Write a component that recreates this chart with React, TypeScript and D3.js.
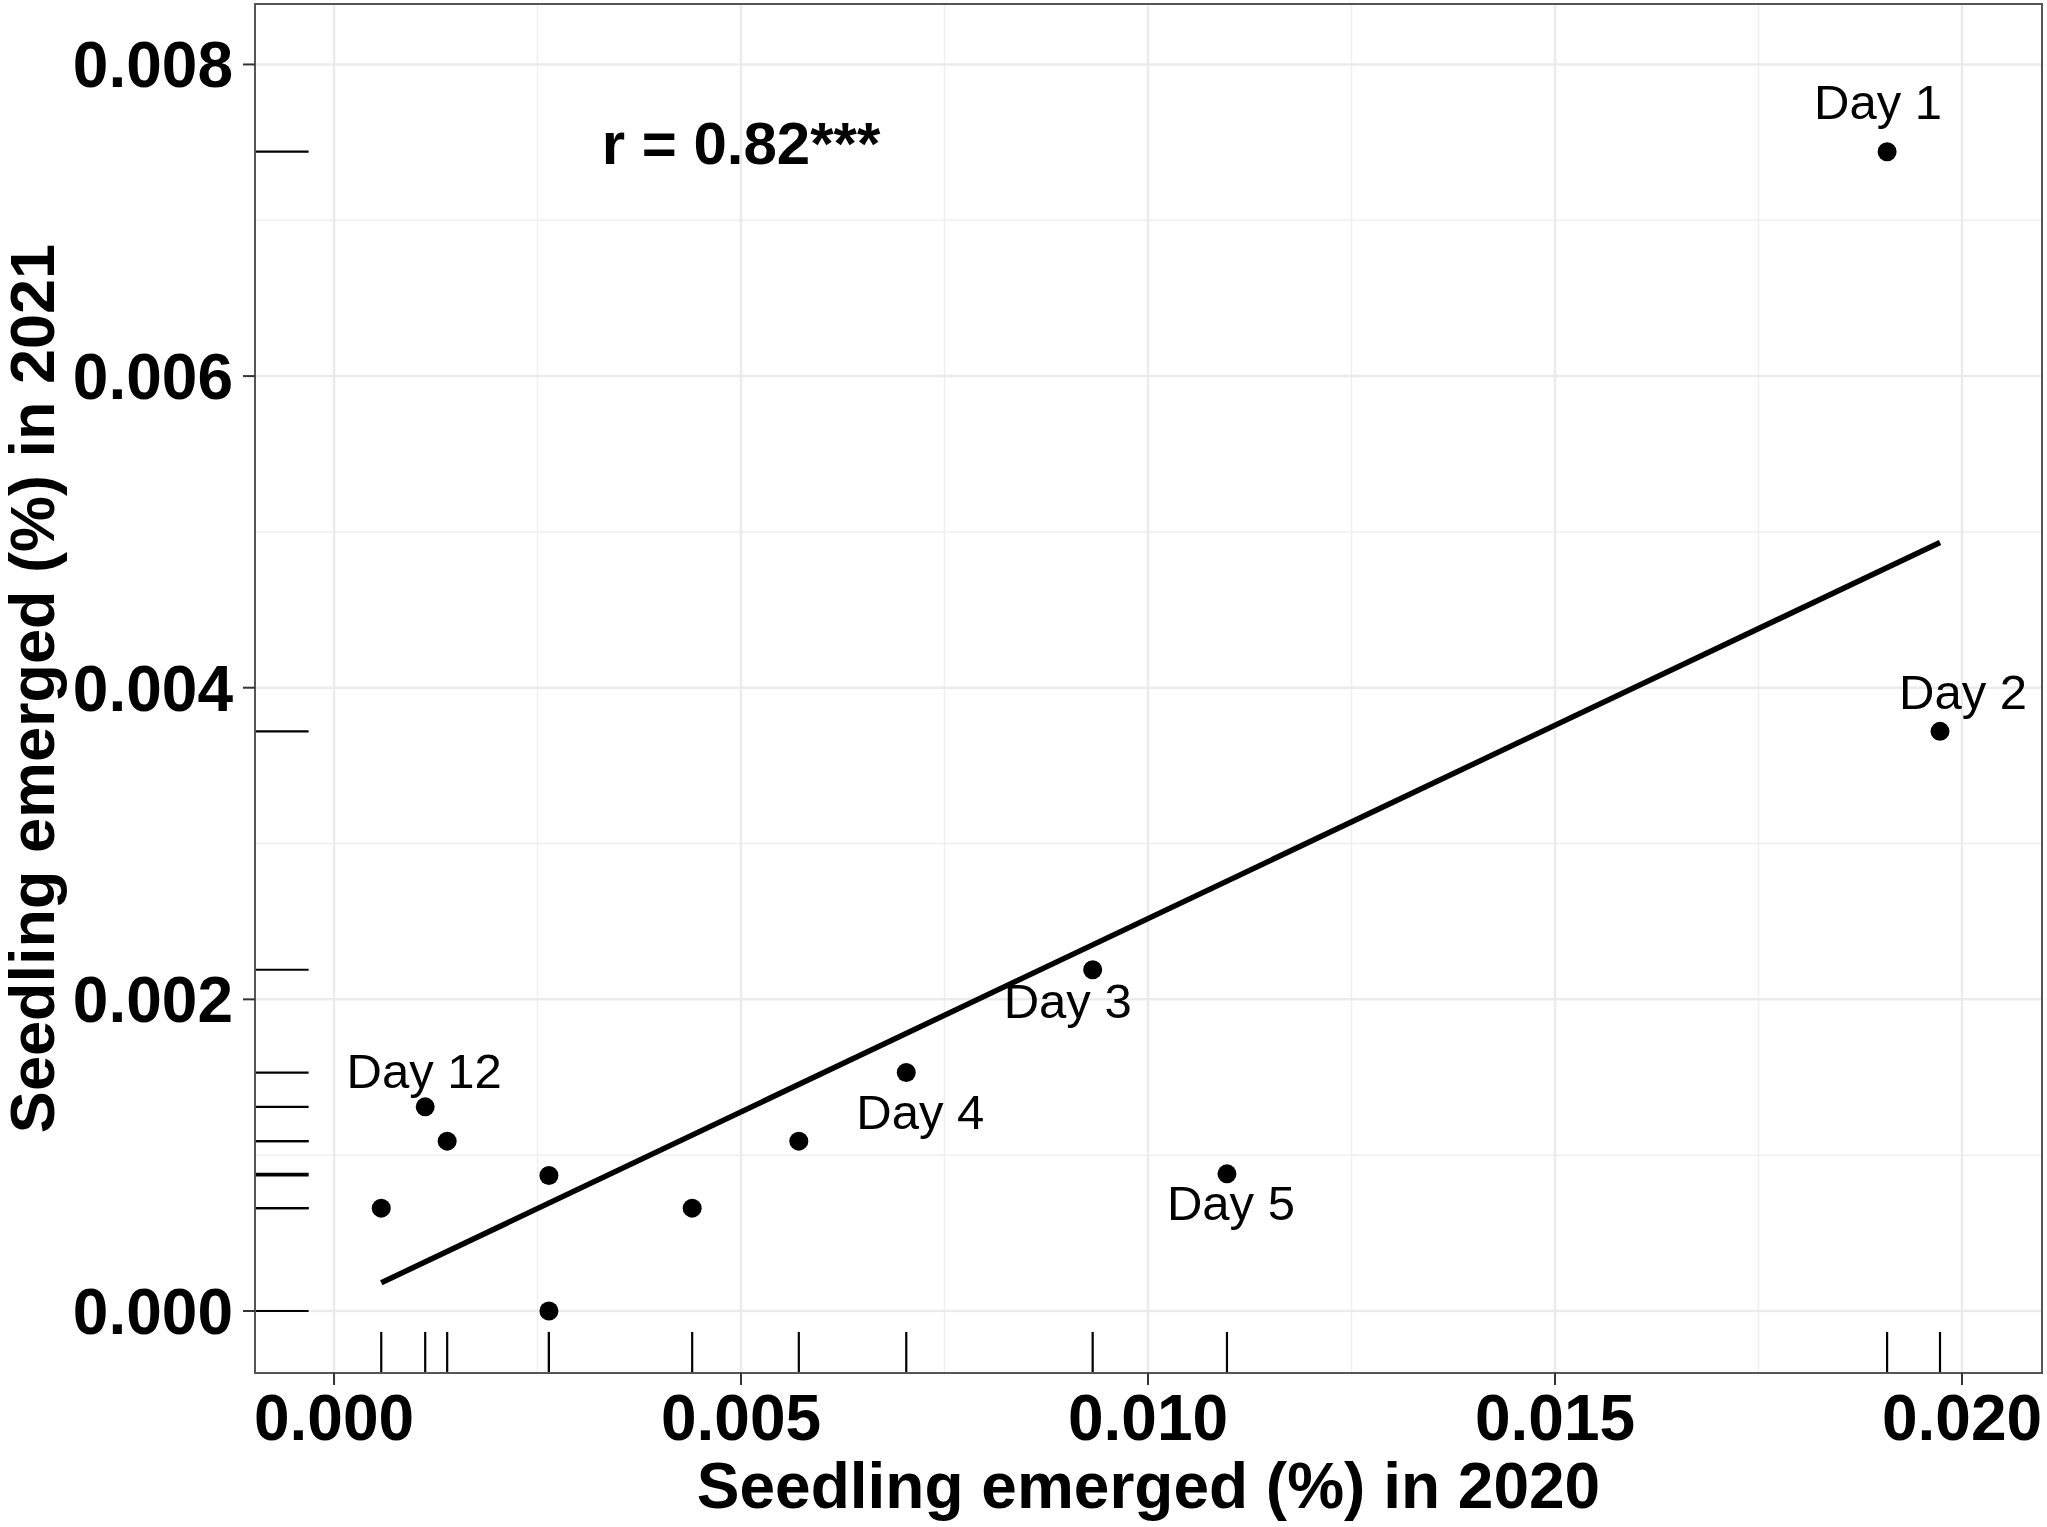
import { useEffect, useRef } from "react"
import * as d3 from "d3"

// seedling emergence per day, 2020 vs 2021
const x2020 = [0.01908, 0.01973, 0.00932, 0.00703, 0.01097, 0.00571, 0.0044, 0.00264, 0.00264, 0.00139, 0.00112, 0.00058]
const y2021 = [0.00744, 0.00372, 0.00219, 0.00153, 0.00088, 0.00109, 0.00066, 0.00087, 0, 0.00109, 0.00131, 0.00066]
const dayLabels = ["Day 1", "Day 2", "Day 3", "Day 4", "Day 5", "", "", "", "", "", "Day 12", ""]

const xTicks = [0, 0.005, 0.01, 0.015, 0.02]
const yTicks = [0, 0.002, 0.004, 0.006, 0.008]
const xMinor = [0.0025, 0.0075, 0.0125, 0.0175]
const yMinor = [0.001, 0.003, 0.005, 0.007]

const corrText = "r = 0.82***"
const xTitle = "Seedling emerged (%) in 2020"
const yTitle = "Seedling emerged (%) in 2021"

// repel-style label offsets (px, relative to the point, text baseline)
const labelNudge: Record<string, [number, number]> = {
  "Day 1": [-9, -33],
  "Day 2": [23, -22],
  "Day 3": [-25, 48],
  "Day 4": [14, 56],
  "Day 5": [4, 46],
  "Day 12": [-1, -19],
}

const FONT = "'Liberation Sans', Arial, Helvetica, sans-serif"

const App = () => {
  const svgRef = useRef<SVGSVGElement | null>(null)

  useEffect(() => {
    if (!svgRef.current) return
    const svg = d3.select(svgRef.current)
    svg.selectAll("*").remove()

    const width = 2047
    const height = 1527
    const panel = { left: 255, right: 2042, top: 4, bottom: 1373 }

    const x = d3.scaleLinear().domain([-0.000971, 0.020983]).range([panel.left, panel.right])
    const y = d3.scaleLinear().domain([-0.000398, 0.008388]).range([panel.bottom, panel.top])

    svg.attr("width", width).attr("height", height).style("font-family", FONT)

    svg.append("rect").attr("width", width).attr("height", height).attr("fill", "#fff")

    const g = svg.append("g")

    // grid
    g.selectAll(".vminor")
      .data(xMinor)
      .join("line")
      .attr("x1", (d) => x(d))
      .attr("x2", (d) => x(d))
      .attr("y1", panel.top)
      .attr("y2", panel.bottom)
      .attr("stroke", "#efefef")
      .attr("stroke-width", 1.5)
    g.selectAll(".hminor")
      .data(yMinor)
      .join("line")
      .attr("y1", (d) => y(d))
      .attr("y2", (d) => y(d))
      .attr("x1", panel.left)
      .attr("x2", panel.right)
      .attr("stroke", "#efefef")
      .attr("stroke-width", 1.5)
    g.selectAll(".vmajor")
      .data(xTicks)
      .join("line")
      .attr("x1", (d) => x(d))
      .attr("x2", (d) => x(d))
      .attr("y1", panel.top)
      .attr("y2", panel.bottom)
      .attr("stroke", "#ebebeb")
      .attr("stroke-width", 2.5)
    g.selectAll(".hmajor")
      .data(yTicks)
      .join("line")
      .attr("y1", (d) => y(d))
      .attr("y2", (d) => y(d))
      .attr("x1", panel.left)
      .attr("x2", panel.right)
      .attr("stroke", "#ebebeb")
      .attr("stroke-width", 2.5)

    // rugs
    const rugX = 0.03 * (panel.bottom - panel.top)
    const rugY = 0.03 * (panel.right - panel.left)
    g.selectAll(".rugx")
      .data(x2020)
      .join("line")
      .attr("x1", (d) => x(d))
      .attr("x2", (d) => x(d))
      .attr("y1", panel.bottom)
      .attr("y2", panel.bottom - rugX)
      .attr("stroke", "#000")
      .attr("stroke-width", 2.2)
    g.selectAll(".rugy")
      .data(y2021)
      .join("line")
      .attr("y1", (d) => y(d))
      .attr("y2", (d) => y(d))
      .attr("x1", panel.left)
      .attr("x2", panel.left + rugY)
      .attr("stroke", "#000")
      .attr("stroke-width", 2.2)

    // linear fit
    const mx = d3.mean(x2020) as number
    const my = d3.mean(y2021) as number
    const sxy = d3.sum(x2020, (v, i) => (v - mx) * (y2021[i] - my))
    const sxx = d3.sum(x2020, (v) => (v - mx) * (v - mx))
    const slope = sxy / sxx
    const intercept = my - slope * mx
    const [xmin, xmax] = d3.extent(x2020) as [number, number]
    const line = d3
      .line<number>()
      .x((d) => x(d))
      .y((d) => y(intercept + slope * d))
    g.append("path")
      .datum([xmin, xmax])
      .attr("d", line)
      .attr("fill", "none")
      .attr("stroke", "#000")
      .attr("stroke-width", 5.5)

    // points
    g.selectAll(".pt")
      .data(x2020)
      .join("circle")
      .attr("cx", (d) => x(d))
      .attr("cy", (d, i) => y(y2021[i]))
      .attr("r", 9.5)
      .attr("fill", "#000")

    // day labels
    g.selectAll(".lab")
      .data(x2020.map((v, i) => ({ x: v, y: y2021[i], label: dayLabels[i] })).filter((d) => d.label))
      .join("text")
      .attr("x", (d) => x(d.x) + (labelNudge[d.label]?.[0] ?? 0))
      .attr("y", (d) => y(d.y) + (labelNudge[d.label]?.[1] ?? 0))
      .attr("text-anchor", "middle")
      .attr("font-size", 49)
      .attr("fill", "#000")
      .text((d) => d.label)

    // correlation annotation
    g.append("text")
      .attr("x", x(0.005))
      .attr("y", y(0.0075) + 22)
      .attr("text-anchor", "middle")
      .attr("font-size", 60)
      .attr("font-weight", "bold")
      .text(corrText)

    // panel border
    g.append("rect")
      .attr("x", panel.left)
      .attr("y", panel.top)
      .attr("width", panel.right - panel.left)
      .attr("height", panel.bottom - panel.top)
      .attr("fill", "none")
      .attr("stroke", "#555")
      .attr("stroke-width", 2)

    // axis ticks and labels
    g.selectAll(".xt")
      .data(xTicks)
      .join("line")
      .attr("x1", (d) => x(d))
      .attr("x2", (d) => x(d))
      .attr("y1", panel.bottom)
      .attr("y2", panel.bottom + 12)
      .attr("stroke", "#333")
      .attr("stroke-width", 2)
    g.selectAll(".xl")
      .data(xTicks)
      .join("text")
      .attr("x", (d) => x(d))
      .attr("y", 1440)
      .attr("text-anchor", "middle")
      .attr("font-size", 64)
      .attr("font-weight", "bold")
      .text((d) => d3.format(".3f")(d))

    g.selectAll(".yt")
      .data(yTicks)
      .join("line")
      .attr("y1", (d) => y(d))
      .attr("y2", (d) => y(d))
      .attr("x1", panel.left - 12)
      .attr("x2", panel.left)
      .attr("stroke", "#333")
      .attr("stroke-width", 2)
    g.selectAll(".yl")
      .data(yTicks)
      .join("text")
      .attr("x", 233)
      .attr("y", (d) => y(d) + 23)
      .attr("text-anchor", "end")
      .attr("font-size", 64)
      .attr("font-weight", "bold")
      .text((d) => d3.format(".3f")(d))

    // axis titles
    g.append("text")
      .attr("x", (panel.left + panel.right) / 2)
      .attr("y", 1508)
      .attr("text-anchor", "middle")
      .attr("font-size", 64)
      .attr("font-weight", "bold")
      .text(xTitle)
    g.append("text")
      .attr("transform", `translate(54,${(panel.top + panel.bottom) / 2}) rotate(-90)`)
      .attr("text-anchor", "middle")
      .attr("font-size", 63)
      .attr("font-weight", "bold")
      .text(yTitle)
  }, [])

  return (
    <div style={{ position: "absolute", left: 0, top: 0 }}>
      <svg ref={svgRef} width={2047} height={1527} style={{ display: "block" }} />
    </div>
  )
}

export default App
